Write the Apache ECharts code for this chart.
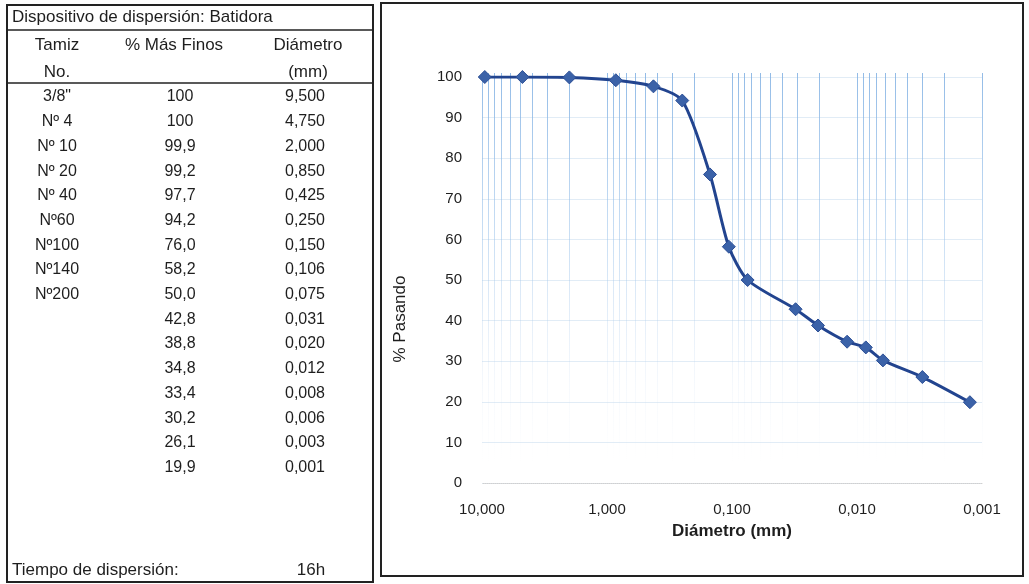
<!DOCTYPE html>
<html>
<head>
<meta charset="utf-8">
<script src="https://cdn.jsdelivr.net/npm/echarts@6/dist/echarts.min.js"></script>
<style>
html,body{margin:0;padding:0;background:#fff;}
#main{width:1029px;height:584px;}
</style>
</head>
<body>
<div id="main"></div>
<script>
// ---- Data ----
const sieveNames = ['3/8"', 'Nº 4', 'Nº 10', 'Nº 20', 'Nº 40', 'Nº60', 'Nº100', 'Nº140', 'Nº200', '', '', '', '', '', '', ''];
const percentPassing = [100, 100, 99.9, 99.2, 97.7, 94.2, 76.0, 58.2, 50.0, 42.8, 38.8, 34.8, 33.4, 30.2, 26.1, 19.9];
const diameterLabels = ['9,500', '4,750', '2,000', '0,850', '0,425', '0,250', '0,150', '0,106', '0,075', '0,031', '0,020', '0,012', '0,008', '0,006', '0,003', '0,001'];
const plotDiameters = [9.5, 4.75, 2.0, 0.85, 0.425, 0.25, 0.15, 0.106, 0.075, 0.031, 0.0205, 0.012, 0.0085, 0.0062, 0.003, 0.00125];
const decades = [10, 1, 0.1, 0.01, 0.001];
const minorMultipliers = [1, 2, 3, 4, 5, 6, 7, 8, 9];
const titleText = 'Dispositivo de dispersión: Batidora';
const timeLabel = 'Tiempo de dispersión:';
const timeValue = '16h';

const FONT = '"Liberation Sans", Arial, sans-serif';

const chart = echarts.init(document.getElementById('main'), null, {renderer: 'canvas'});

// vertical grid positions (log minor ticks)
const gridXs = [];
decades.forEach(d => {
  minorMultipliers.forEach(m => {
    const v = +(d * m).toPrecision(3);
    if (v <= 10 && v >= 0.001 && gridXs.indexOf(v) < 0) gridXs.push(v);
  });
});

// table graphics
const rowY0 = 97, rowStep = 24.7;
const colSieve = 57, colPass = 180, colDiam = 305;
const fmtPass = v => v === 100 ? '100' : v.toFixed(1).replace('.', ',');
const wordFont = '17px ' + FONT;
const numFont = '16px ' + FONT;
const txt = (x, y, text, font, align) => ({type: 'text', x: x, y: y, silent: true,
  style: {text: text, font: font, fill: '#1e1e1e', align: align || 'center', verticalAlign: 'middle'}});

const graphics = [
  {type: 'rect', shape: {x: 7, y: 5, width: 366, height: 577}, style: {fill: 'none', stroke: '#222', lineWidth: 2}, silent: true},
  {type: 'line', shape: {x1: 7, y1: 30, x2: 373, y2: 30}, style: {stroke: '#222', lineWidth: 1.5}, silent: true},
  {type: 'line', shape: {x1: 7, y1: 83, x2: 373, y2: 83}, style: {stroke: '#222', lineWidth: 1.5}, silent: true},
  {type: 'rect', shape: {x: 381, y: 3, width: 642, height: 573}, style: {fill: 'none', stroke: '#222', lineWidth: 2}, silent: true},
  txt(12, 17, titleText, wordFont, 'left'),
  txt(colSieve, 45, 'Tamiz', wordFont),
  txt(colSieve, 72, 'No.', wordFont),
  txt(174, 45, '% Más Finos', wordFont),
  txt(308, 45, 'Diámetro', wordFont),
  txt(308, 72, '(mm)', wordFont),
  txt(12, 570, timeLabel, wordFont, 'left'),
  txt(311, 570, timeValue, wordFont),
  {type: 'text', x: 400, y: 319, rotation: Math.PI / 2, silent: true,
   style: {text: '% Pasando', font: '17px ' + FONT, fill: '#1e1e1e', align: 'center', verticalAlign: 'middle'}}
];
percentPassing.forEach((v, i) => {
  const y = rowY0 + i * rowStep;
  if (sieveNames[i]) graphics.push(txt(colSieve, y, sieveNames[i], numFont));
  graphics.push(txt(colPass, y, fmtPass(v), numFont));
  graphics.push(txt(colDiam, y, diameterLabels[i], numFont));
});

const option = {
  backgroundColor: '#fff',
  animation: false,
  grid: {left: 482, right: 47, top: 77, bottom: 101, containLabel: false},
  xAxis: {
    type: 'log',
    logBase: 10,
    min: 0.001,
    max: 10,
    inverse: true,
    name: 'Diámetro (mm)',
    nameLocation: 'middle',
    nameGap: 40,
    nameTextStyle: {fontFamily: FONT, fontSize: 17, fontWeight: 'bold', color: '#1e1e1e'},
    axisLine: {show: true, lineStyle: {color: '#d0d0d0', type: 'dotted', width: 1}},
    axisTick: {show: false},
    axisLabel: {fontFamily: FONT, fontSize: 15, color: '#1e1e1e', margin: 19,
      formatter: v => Number(v).toFixed(3).replace('.', ',')},
    splitLine: {show: false}
  },
  yAxis: {
    type: 'value',
    min: 0,
    max: 100,
    interval: 10,
    axisLine: {show: false},
    axisTick: {show: false},
    axisLabel: {fontFamily: FONT, fontSize: 15, color: '#1e1e1e', margin: 20},
    splitLine: {show: true, lineStyle: {color: 'rgba(200,220,238,0.55)', width: 1}}
  },
  graphic: graphics,
  series: [
    {
      type: 'custom',
      silent: true,
      z: 1,
      data: gridXs.map(v => [v]),
      encode: {x: 0},
      renderItem: function (params, api) {
        const top = api.coord([api.value(0), 100]);
        const bottom = api.coord([api.value(0), 0]);
        const x = Math.round(top[0]) + 0.5;
        return {
          type: 'line',
          shape: {x1: x, y1: top[1] - 4, x2: x, y2: bottom[1] - 20},
          style: {
            lineWidth: 1,
            stroke: new echarts.graphic.LinearGradient(0, 0, 0, 1, [
              {offset: 0, color: 'rgba(135,180,228,0.9)'},
              {offset: 0.45, color: 'rgba(155,195,235,0.5)'},
              {offset: 0.8, color: 'rgba(180,205,235,0.12)'},
              {offset: 1, color: 'rgba(200,215,235,0.0)'}
            ])
          }
        };
      }
    },
    {
      type: 'line',
      data: plotDiameters.map((d, i) => [d, percentPassing[i]]),
      smooth: 0.25,
      symbol: 'diamond',
      symbolSize: 13,
      lineStyle: {color: '#22448f', width: 3},
      itemStyle: {color: '#3b62a8', borderColor: '#2c4f96', borderWidth: 1},
      z: 5
    }
  ]
};
chart.setOption(option);
</script>
</body>
</html>
